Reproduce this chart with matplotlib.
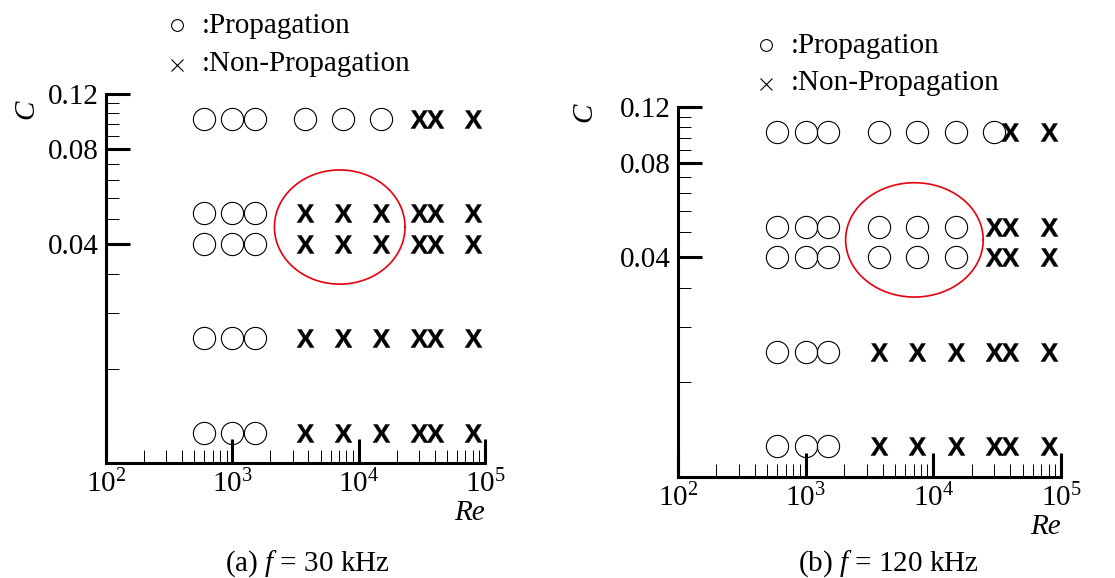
import numpy as np
import matplotlib
matplotlib.use("Agg")
import matplotlib.pyplot as plt
from matplotlib.lines import Line2D
from matplotlib.ticker import FixedLocator, LogLocator, NullFormatter

plt.rcParams["font.family"] = "Liberation Serif"
plt.rcParams["mathtext.fontset"] = "custom"
plt.rcParams["mathtext.rm"] = "Liberation Serif"
plt.rcParams["mathtext.it"] = "Liberation Serif:italic"
plt.rcParams["mathtext.bf"] = "Liberation Sans:bold"

# test grid
re_levels = [600, 1000, 1500, 3750, 7500, 15000, 30000, 40000, 80000]
c_levels = [0.01, 0.02, 0.04, 0.05, 0.1]

# how many of the Re values (lowest first) propagate, for each C level
prop_count_30 = [3, 3, 3, 3, 6]
prop_count_120 = [3, 3, 6, 6, 7]

y_major = [0.04, 0.08, 0.12]
y_major_labels = ["0.04", "0.08", "0.12"]
y_minor = np.arange(0.008, 0.1201, 0.008)

# highlighted region (centre Re, centre C, half-width / half-height in decades)
ring_30 = (7080, 0.0452, 0.517, 0.182)
ring_120 = (7110, 0.0454, 0.539, 0.182)

W, H = 1115, 578
FS = 21
fig = plt.figure(figsize=(W / 100, H / 100), dpi=100)


def px(x, y):
    return x / W, 1 - y / H


def panel(rect, counts, ring, title, title_xy, c_xy, legend_xy):
    ax = fig.add_axes(rect)
    ax.set_xscale("log")
    ax.set_yscale("log")
    ax.set_xlim(1e2, 1e5)
    ax.set_ylim(0.008, 0.12)

    for c, n in zip(c_levels, counts):
        ax.plot(re_levels[:n], [c] * n, ls="none", marker="o", ms=16,
                mfc="none", mec="black", mew=0.8, clip_on=False, zorder=4)
        rest = re_levels[n:]
        ax.plot(rest, [c] * len(rest), ls="none", marker=r"$\mathbf{X}$",
                ms=13, mfc="black", mec="black", mew=0.3, clip_on=False,
                zorder=4)

    cx, cy, a, b = ring
    t = np.linspace(0, 2 * np.pi, 300)
    ax.plot(10 ** (np.log10(cx) + a * np.cos(t)),
            10 ** (np.log10(cy) + b * np.sin(t)),
            color="#e8000b", lw=1.2, zorder=3)

    for s in ("top", "right"):
        ax.spines[s].set_visible(False)
    for s in ("left", "bottom"):
        ax.spines[s].set_linewidth(2.2)
        ax.spines[s].set_capstyle("projecting")

    ax.yaxis.set_major_locator(FixedLocator(y_major))
    ax.set_yticklabels(y_major_labels)
    ax.yaxis.set_minor_locator(FixedLocator(y_minor))
    ax.yaxis.set_minor_formatter(NullFormatter())
    ax.xaxis.set_major_locator(FixedLocator([1e2, 1e3, 1e4, 1e5]))
    ax.xaxis.set_minor_locator(LogLocator(base=10, subs=np.arange(2, 10)))
    ax.xaxis.set_minor_formatter(NullFormatter())

    ax.tick_params(which="major", direction="in", length=17.5, width=2.2,
                   labelsize=FS, pad=5)
    ax.tick_params(which="minor", direction="in", length=9.5, width=0.7)

    ax.text(1.0, -0.135, "Re", transform=ax.transAxes, ha="right",
            va="center", fontsize=FS, style="italic")
    ax.text(c_xy[0], c_xy[1], "C", transform=ax.transAxes, rotation=90,
            ha="center", va="center", fontsize=FS, style="italic")

    fig.text(*px(*title_xy), title, ha="center", va="baseline", fontsize=FS)

    # key
    lx, ly1, ly2 = legend_xy
    fig.add_artist(Line2D([px(lx, 0)[0]], [px(0, ly1 - 8)[1]], marker="o",
                          ms=8.5, mfc="none", mec="black", mew=0.8,
                          transform=fig.transFigure))
    fig.add_artist(Line2D([px(lx, 0)[0]], [px(0, ly2 - 6)[1]], marker="x",
                          ms=8, mec="black", mew=0.8,
                          transform=fig.transFigure))
    fig.text(*px(lx + 25, ly1), ":Propagation", ha="left", va="baseline",
             fontsize=FS)
    fig.text(*px(lx + 25, ly2), ":Non-Propagation", ha="left",
             va="baseline", fontsize=FS)
    return ax


panel([106 / W, (H - 463) / H, 379 / W, 369 / H], prop_count_30, ring_30,
      "(a) $f$ = 30 kHz", (307, 571), (-0.211, 0.959), (176.7, 33, 70.7))
panel([678 / W, (H - 476.7) / H, 383 / W, 369.4 / H], prop_count_120,
      ring_120, "(b) $f$ = 120 kHz", (888, 571), (-0.245, 0.987),
      (765.7, 53.3, 90))

fig.savefig("out.png", dpi=100)
